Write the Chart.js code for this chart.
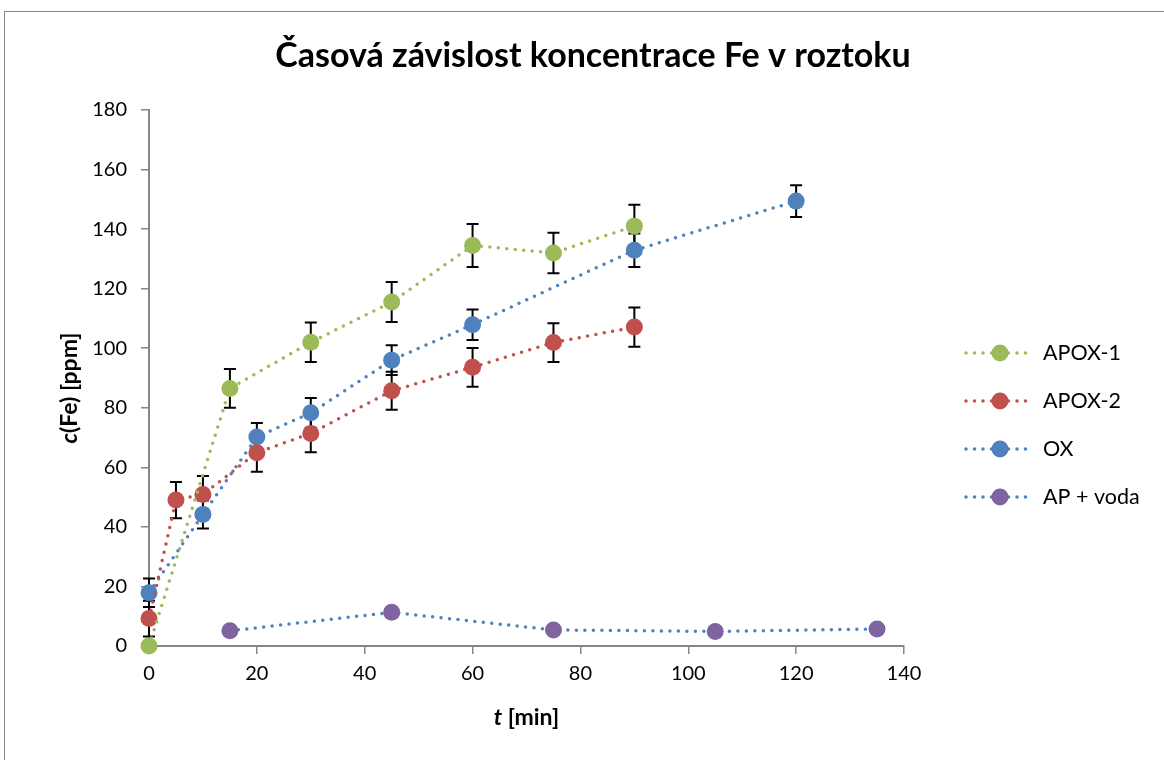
<!DOCTYPE html>
<html>
<head>
<meta charset="utf-8">
<script src="https://cdn.jsdelivr.net/npm/chart.js@4/dist/chart.umd.min.js"></script>
<style>
  body { margin: 0; background: #fff; overflow: hidden; }
  #wrap { position: relative; width: 1164px; height: 760px; }
  #frame { position: absolute; left: 4px; top: 11px; width: 1200px; height: 800px; border: 1px solid #868686; }
  #cv { position: absolute; left: 0; top: 0; }
</style>
</head>
<body>
<div id="wrap">
  <div id="frame"></div>
  <canvas id="cv" width="1164" height="760"></canvas>
</div>
<script>
// hodnoty
var apox1T = [0, 15, 30, 45, 60, 75, 90];
var apox1C = [0, 86.5, 102, 115.5, 134.5, 132, 141];
var apox1E = [0, 6.5, 6.6, 6.7, 7.2, 6.8, 7.2];

var apox2T = [0, 5, 10, 20, 30, 45, 60, 75, 90];
var apox2C = [9.2, 49, 50.9, 64.9, 71.4, 85.7, 93.6, 101.9, 107.1];
var apox2E = [6, 6.1, 6.2, 6.4, 6.3, 6.4, 6.5, 6.5, 6.6];

var oxT = [0, 10, 20, 30, 45, 60, 90, 120];
var oxC = [17.9, 44.2, 70.2, 78.3, 96, 107.9, 132.9, 149.4];
var oxE = [4.8, 4.7, 4.7, 5, 5, 5.1, 5.6, 5.3];

var apT = [15, 45, 75, 105, 135];
var apC = [5.1, 11.3, 5.4, 4.9, 5.7];

var seriesNames = ['APOX-1', 'APOX-2', 'OX', 'AP + voda'];
var lineColors = ['#9BBB59', '#C0504D', '#4F81BD', '#4F81BD'];
var markerColors = ['#9BBB59', '#C0504D', '#4F81BD', '#8064A2'];

var FONT = 'Lato, "Open Sans", sans-serif';

function toPoints(t, c) {
  var arr = [];
  for (var i in t) {
    arr.push({x: t[i], y: c[i]});
  }
  return arr;
}

function makeSet(idx, t, c, err) {
  return {
    label: seriesNames[idx],
    data: toPoints(t, c),
    errors: err,
    showLine: true,
    clip: false,
    borderColor: lineColors[idx],
    borderWidth: 3.5,
    borderDash: [0, 8.5],
    borderCapStyle: 'round',
    backgroundColor: markerColors[idx],
    pointBackgroundColor: markerColors[idx],
    pointBorderColor: markerColors[idx],
    pointRadius: 8.5,
    pointBorderWidth: 0,
    pointHoverRadius: 8.5,
    tension: 0
  };
}

var errorBarsPlugin = {
  id: 'errorBars',
  beforeDatasetsDraw: function(chart) {
    var ctx = chart.ctx;
    var xs = chart.scales.x, ys = chart.scales.y;
    ctx.save();
    ctx.strokeStyle = '#000';
    ctx.lineWidth = 2;
    chart.data.datasets.forEach(function(ds) {
      if (!ds.errors) return;
      ds.data.forEach(function(p, i) {
        var e = ds.errors[i];
        if (!e) return;
        var px = xs.getPixelForValue(p.x);
        var top = ys.getPixelForValue(p.y + e);
        var bot = ys.getPixelForValue(p.y - e);
        ctx.beginPath();
        ctx.moveTo(px, top); ctx.lineTo(px, bot);
        ctx.moveTo(px - 6, top); ctx.lineTo(px + 6, top);
        ctx.moveTo(px - 6, bot); ctx.lineTo(px + 6, bot);
        ctx.stroke();
      });
    });
    ctx.restore();
  }
};

var textPlugin = {
  id: 'texts',
  afterDraw: function(chart) {
    var ctx = chart.ctx;
    var a = chart.chartArea;
    ctx.save();
    ctx.fillStyle = '#000';

    // nadpis
    ctx.font = 'bold 34px ' + FONT;
    ctx.textAlign = 'center';
    ctx.textBaseline = 'middle';
    ctx.fillText('Časová závislost koncentrace Fe v roztoku', 593, 56);

    // popisek osy x
    ctx.textAlign = 'left';
    ctx.font = 'bold italic 23px ' + FONT;
    var w1 = ctx.measureText('t').width;
    ctx.font = 'bold 23px ' + FONT;
    var w2 = ctx.measureText(' [min]').width;
    var sx = (a.left + a.right) / 2 - (w1 + w2) / 2;
    ctx.font = 'bold italic 23px ' + FONT;
    ctx.fillText('t', sx, 718);
    ctx.font = 'bold 23px ' + FONT;
    ctx.fillText(' [min]', sx + w1, 718);

    // popisek osy y
    ctx.translate(70, 388);
    ctx.rotate(-Math.PI / 2);
    ctx.font = 'bold italic 23px ' + FONT;
    w1 = ctx.measureText('c').width;
    ctx.font = 'bold 23px ' + FONT;
    w2 = ctx.measureText('(Fe) [ppm]').width;
    sx = -(w1 + w2) / 2;
    ctx.font = 'bold italic 23px ' + FONT;
    ctx.fillText('c', sx, 0);
    ctx.font = 'bold 23px ' + FONT;
    ctx.fillText('(Fe) [ppm]', sx + w1, 0);
    ctx.restore();

    // legenda
    ctx.save();
    chart.data.datasets.forEach(function(ds, i) {
      var ly = 353 + i * 48;
      var lx = a.right + 62;
      ctx.strokeStyle = ds.borderColor;
      ctx.lineWidth = 3.5;
      ctx.lineCap = 'round';
      ctx.setLineDash([0, 8.5]);
      ctx.beginPath();
      ctx.moveTo(lx, ly); ctx.lineTo(lx + 64, ly);
      ctx.stroke();
      ctx.setLineDash([]);
      ctx.fillStyle = ds.pointBackgroundColor;
      ctx.beginPath();
      ctx.arc(lx + 34, ly, 8.5, 0, Math.PI * 2);
      ctx.fill();
      ctx.fillStyle = '#000';
      ctx.font = '21.5px ' + FONT;
      ctx.textAlign = 'left';
      ctx.textBaseline = 'middle';
      ctx.fillText(ds.label, lx + 77, ly);
    });
    ctx.restore();
  }
};

var config = {
  type: 'scatter',
  data: {
    datasets: [
      makeSet(0, apox1T, apox1C, apox1E),
      makeSet(1, apox2T, apox2C, apox2E),
      makeSet(2, oxT, oxC, oxE),
      makeSet(3, apT, apC, null)
    ]
  },
  options: {
    responsive: false,
    animation: false,
    events: [],
    layout: { padding: { left: 0, right: 260, top: 110, bottom: 0 } },
    plugins: {
      legend: { display: false },
      title: { display: false },
      tooltip: { enabled: false }
    },
    scales: {
      x: {
        type: 'linear',
        min: 0, max: 140,
        ticks: { stepSize: 20, color: '#000', font: { family: FONT, size: 20 }, padding: 8 },
        grid: { drawOnChartArea: false, color: '#868686', tickLength: 8, lineWidth: 1.5 },
        border: { color: '#868686', width: 2 },
        afterFit: function(s) { s.height = 114; }
      },
      y: {
        min: 0, max: 180,
        ticks: { stepSize: 20, color: '#000', font: { family: FONT, size: 20 }, padding: 14 },
        grid: { drawOnChartArea: false, color: '#868686', tickLength: 8, lineWidth: 1.5 },
        border: { color: '#868686', width: 2 },
        afterFit: function(s) { s.width = 149; }
      }
    }
  },
  plugins: [errorBarsPlugin, textPlugin]
};

var ctx = document.getElementById('cv').getContext('2d');
new Chart(ctx, config);
</script>
</body>
</html>
